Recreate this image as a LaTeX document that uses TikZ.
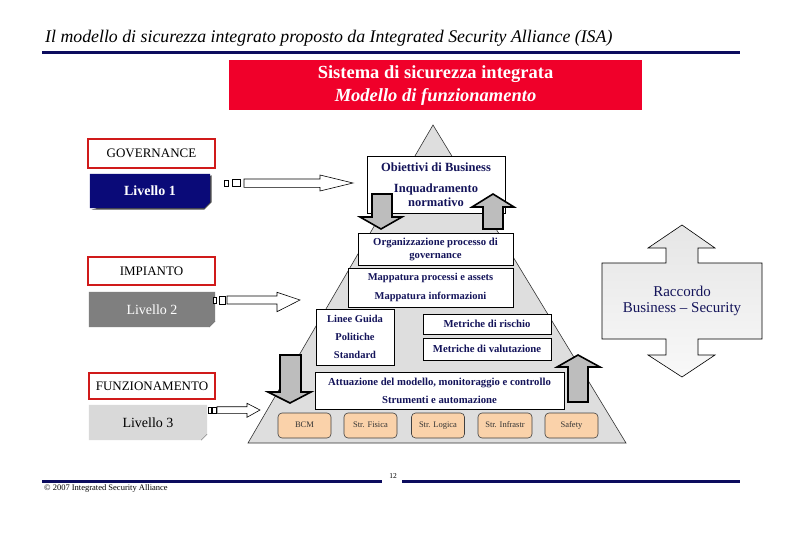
\documentclass[tikz,border=0pt]{standalone}
\usepackage{fontspec}
\setmainfont{Liberation Serif}
\usetikzlibrary{calc}
\definecolor{navyline}{HTML}{0C0C5E}
\definecolor{isared}{HTML}{F0002A}
\definecolor{boxred}{HTML}{D01A1A}
\definecolor{pyr}{HTML}{DEDEDE}
\definecolor{peach}{HTML}{FAD2AA}
\definecolor{txtnavy}{HTML}{14145A}
\definecolor{lvone}{HTML}{0A0A78}
\definecolor{lvtwo}{HTML}{7F7F7F}
\definecolor{lvthree}{HTML}{D9D9D9}
\definecolor{garrowfill}{HTML}{BDBDBD}
\begin{document}
\begin{tikzpicture}[x=1pt,y=-1pt,
  pbox/.style={draw=black, fill=white, line width=0.6pt, text=txtnavy, align=center, inner sep=0pt,
    font=\fontsize{10.7}{13}\selectfont\bfseries},
  redbox/.style={draw=boxred, line width=2.2pt, fill=white, inner sep=0pt,
    font=\fontsize{13}{15}\selectfont},
  tool/.style={draw=black!75, fill=peach, rounded corners=4pt, line width=0.6pt, inner sep=0pt,
    text height=6pt, text depth=2pt,
    font=\fontsize{8.5}{9}\selectfont, text=black!80},
  lvbox/.style={inner sep=0pt, font=\fontsize{14}{16}\selectfont},
  garrow/.style={draw=black, line width=1.6pt, fill=garrowfill, line join=miter},
  harrow/.style={draw=black, line width=0.6pt, fill=white},
  navyrule/.style={draw=navyline, line width=3pt},
  raccordo/.style={draw=black, line width=0.6pt, top color=gray!20, bottom color=gray!5}
]
\useasboundingbox (0,0) rectangle (810,540);
\fill[white] (0,0) rectangle (810,540);

% title and header
\node[anchor=base west, inner sep=0pt, font=\fontsize{17.8}{20}\selectfont\itshape] (title) at (45,43)
  {Il modello di sicurezza integrato proposto da Integrated Security Alliance (ISA)};
\coordinate (hl) at (42,53);
\coordinate (hr) at (740,53);
\draw[navyrule] (hl) -- (hr);

\node[fill=isared, minimum width=413pt, minimum height=50pt, inner sep=0pt, text=white, align=center,
  font=\fontsize{18.5}{23}\selectfont\bfseries] (header) at (435.5,85.5)
  {Sistema di sicurezza integrata\\\itshape Modello di funzionamento};

% pyramid
\coordinate (apex) at (433,125);
\coordinate (bl) at (248,443);
\coordinate (br) at (626,443);
\draw[fill=pyr, draw=black!80, line width=0.6pt] (apex) -- (br) -- (bl) -- cycle;

% pyramid boxes
\node[pbox, minimum width=138pt, minimum height=57pt, font=\fontsize{12.5}{13.5}\selectfont\bfseries] (obj) at (436,184.5)
  {Obiettivi di Business\\[8pt]Inquadramento\\normativo};
\node[pbox, minimum width=155pt, minimum height=32pt, font=\fontsize{10.7}{13}\selectfont\bfseries] (org) at (435.5,249)
  {Organizzazione processo di\\governance};
\node[pbox, minimum width=165pt, minimum height=39pt, font=\fontsize{10.5}{19}\selectfont\bfseries] (map) at (430.5,287.5)
  {Mappatura processi e assets\\Mappatura informazioni};
\node[pbox, minimum width=78pt, minimum height=56pt, font=\fontsize{10.5}{18}\selectfont\bfseries] (lin) at (355,337)
  {Linee Guida\\Politiche\\Standard};
\node[pbox, minimum width=128pt, minimum height=20pt] (mr) at (487,324) {Metriche di rischio};
\node[pbox, minimum width=128pt, minimum height=22pt] (mv) at (487,349) {Metriche di valutazione};
\node[pbox, minimum width=249pt, minimum height=37pt, font=\fontsize{10.7}{18}\selectfont\bfseries] (att) at (439.5,390.5)
  {Attuazione del modello, monitoraggio e controllo\\Strumenti e automazione};

% tools row
\node[tool, minimum width=53pt, minimum height=25pt] (bcm) at (304.5,425.5) {BCM};
\node[tool, minimum width=53pt, minimum height=25pt] (fis) at (370.5,425.5) {Str. Fisica};
\node[tool, minimum width=53pt, minimum height=25pt] (log) at (438,425.5) {Str. Logica};
\node[tool, minimum width=54pt, minimum height=25pt] (inf) at (505,425.5) {Str. Infrastr};
\node[tool, minimum width=53pt, minimum height=25pt] (saf) at (571.5,425.5) {Safety};

% grey block arrows
\draw[garrow] (372,194) -- (392,194) -- (392,217) -- (402,217) -- (381,229) -- (360,217) -- (372,217) -- cycle;
\draw[garrow] (483,229) -- (503,229) -- (503,207) -- (514,207) -- (493,194) -- (472,207) -- (483,207) -- cycle;
\draw[garrow] (280,355) -- (301,355) -- (301,392) -- (311,392) -- (290,403) -- (268,392) -- (280,392) -- cycle;
\draw[garrow] (568,402) -- (588,402) -- (588,367) -- (600,367) -- (578,355) -- (557,367) -- (568,367) -- cycle;

% raccordo double arrow
\draw[raccordo] (682,225) -- (715,248) -- (698,248) -- (698,263) -- (762,263) -- (762,339) -- (698,339)
  -- (698,355) -- (715,355) -- (682,377) -- (648,355) -- (666,355) -- (666,339) -- (602,339)
  -- (602,263) -- (666,263) -- (666,248) -- (648,248) -- cycle;
\node[text=txtnavy, align=center, inner sep=0pt, font=\fontsize{15}{16.5}\selectfont] (racc) at (682,301)
  {Raccordo\\Business -- Security};

% left column: red boxes
\node[redbox, minimum width=127pt, minimum height=29pt] (gov) at (151.5,153.5) {GOVERNANCE};
\node[redbox, minimum width=127pt, minimum height=28pt] (imp) at (151.5,271) {IMPIANTO};
\node[redbox, minimum width=126pt, minimum height=26pt] (fun) at (152,386) {FUNZIONAMENTO};

% livello boxes with folded corner
\node[lvbox, minimum width=120pt, minimum height=34pt] (l1) at (150,191) {};
\fill[black!70] ([xshift=1.5pt,yshift=-1.5pt]l1.north east) -- ([xshift=1.5pt,yshift=6pt]l1.south east) -- ([xshift=-6pt,yshift=-1.5pt]l1.south east) -- ([xshift=1.5pt,yshift=-1.5pt]l1.south west) -- cycle;
\fill[lvone] (l1.north west) -- (l1.north east) -- ([yshift=6pt]l1.south east) -- ([xshift=-6pt]l1.south east) -- (l1.south west) -- cycle;
\node[lvbox, text=white, font=\fontsize{14}{16}\selectfont\bfseries] at (l1.center) {Livello 1};

\node[lvbox, minimum width=126pt, minimum height=35pt] (l2) at (152,309.5) {};
\fill[lvtwo] (l2.north west) -- (l2.north east) -- ([yshift=6pt]l2.south east) -- ([xshift=-6pt]l2.south east) -- (l2.south west) -- cycle;
\draw[black!60, line width=0.4pt] ([yshift=6pt]l2.south east) -- ([xshift=-6pt]l2.south east);
\node[lvbox, text=white] at (l2.center) {Livello 2};

\node[lvbox, minimum width=118pt, minimum height=35pt] (l3) at (148,422.5) {};
\fill[lvthree] (l3.north west) -- (l3.north east) -- ([yshift=6pt]l3.south east) -- ([xshift=-6pt]l3.south east) -- (l3.south west) -- cycle;
\draw[black!60, line width=0.4pt] ([yshift=6pt]l3.south east) -- ([xshift=-6pt]l3.south east);
\node[lvbox, text=black] at (l3.center) {Livello 3};

% hollow arrows
\draw[harrow] (224,180) rectangle (228.7,186);
\draw[harrow] (232.3,179) rectangle (240,186.7);
\draw[harrow] (244,179) -- (320,179) -- (320,175) -- (353,183) -- (320,191) -- (320,187.3) -- (244,187.3) -- cycle;

\draw[harrow] (213.3,297.3) rectangle (216.7,303.3);
\draw[harrow] (219.3,296) rectangle (225.3,304);
\draw[harrow] (227,296) -- (277,296) -- (277,292.3) -- (300,300) -- (277,311.7) -- (277,304) -- (227,304) -- cycle;

\draw[harrow] (208,407) rectangle (211.5,413);
\draw[harrow] (212.5,407) rectangle (216,413);
\draw[harrow] (217,406.7) -- (247,406.7) -- (247,403.3) -- (260,410) -- (247,417.3) -- (247,413.3) -- (217,413.3) -- cycle;

% footer
\coordinate (fl1) at (42,481);
\coordinate (fl2) at (382,481);
\coordinate (fr1) at (402,481);
\coordinate (fr2) at (740,481);
\draw[navyrule] (fl1) -- (fl2);
\draw[navyrule] (fr1) -- (fr2);
\node[inner sep=0pt, font=\fontsize{7.5}{8}\selectfont] (page) at (393,476) {12};
\node[anchor=west, inner sep=0pt, font=\fontsize{8.5}{9}\selectfont] (copy) at (44,488) {© 2007 Integrated Security Alliance};
\end{tikzpicture}
\end{document}
